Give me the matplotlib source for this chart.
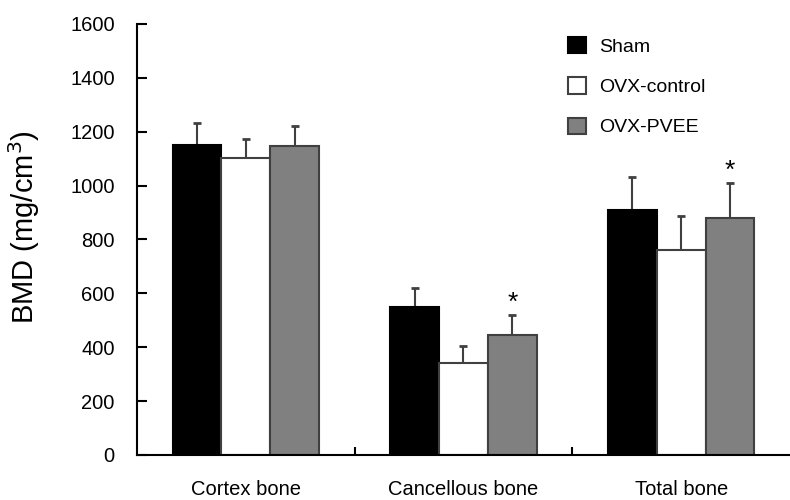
import numpy as np
import matplotlib
matplotlib.use("Agg")
import matplotlib.pyplot as plt

plt.rcParams['font.family'] = ['Liberation Sans', 'DejaVu Sans']

categories = ['Cortex bone', 'Cancellous bone', 'Total bone']
groups = ['Sham', 'OVX-control', 'OVX-PVEE']
sham = [1150, 549, 909]
sham_err = [81, 71, 123]
ovx_control = [1102, 342, 761]
ovx_control_err = [71, 63, 126]
ovx_pvee = [1147, 445, 880]
ovx_pvee_err = [74, 75, 130]
# groups marked significant vs OVX-control
pvee_sig = [False, True, True]

means = [sham, ovx_control, ovx_pvee]
errs = [sham_err, ovx_control_err, ovx_pvee_err]
fills = ['black', 'white', '#808080']
edges = ['black', '#404040', '#404040']

fig = plt.figure(figsize=(7.9, 5), dpi=100)
ax = fig.add_axes([0.1734, 0.09, 0.8266, 0.862])

x = np.arange(len(categories))
w = 0.224
for i, (m, e) in enumerate(zip(means, errs)):
    pos = x + (i - 1) * w
    ax.bar(pos, m, width=w, color=fills[i], edgecolor=edges[i], linewidth=1.5,
           label=groups[i], zorder=2)
    ax.errorbar(pos, m, yerr=[np.zeros(len(e)), e], fmt='none', ecolor='#404040',
                elinewidth=1.5, capsize=3, capthick=2, zorder=1)

for xi, m, e, s in zip(x + w, ovx_pvee, ovx_pvee_err, pvee_sig):
    if s:
        ax.annotate('*', (xi, m + e), xytext=(0, 0), textcoords='offset points',
                    ha='center', va='bottom', fontsize=19)

ax.set_xlim(-0.5, 2.5)
ax.set_ylim(0, 1600)
ax.set_yticks(np.arange(0, 1601, 200))
ax.set_xticks([0.5, 1.5])
ax.set_xticklabels([])
ax.set_xticks(x, minor=True)
ax.set_xticklabels(categories, minor=True, fontsize=14.5)
ax.tick_params(axis='x', which='major', direction='in', length=6, width=1.5)
ax.tick_params(axis='x', which='minor', length=0, pad=18)
ax.tick_params(axis='y', direction='in', length=7, width=1.5, labelsize=14.5, pad=16)

for side in ['top', 'right']:
    ax.spines[side].set_visible(False)
for side in ['left', 'bottom']:
    ax.spines[side].set_linewidth(1.5)

ax.set_ylabel('BMD (mg/cm$^3$)', fontsize=21)
ax.yaxis.set_label_coords(-0.146, 0.53)

ax.legend(loc='upper left', bbox_to_anchor=(0.707, 0.945), bbox_transform=fig.transFigure,
          frameon=False, fontsize=14, handlelength=0.9, handleheight=0.9,
          handletextpad=0.7, labelspacing=1.1, borderpad=0)

fig.savefig('out.png', dpi=100)
